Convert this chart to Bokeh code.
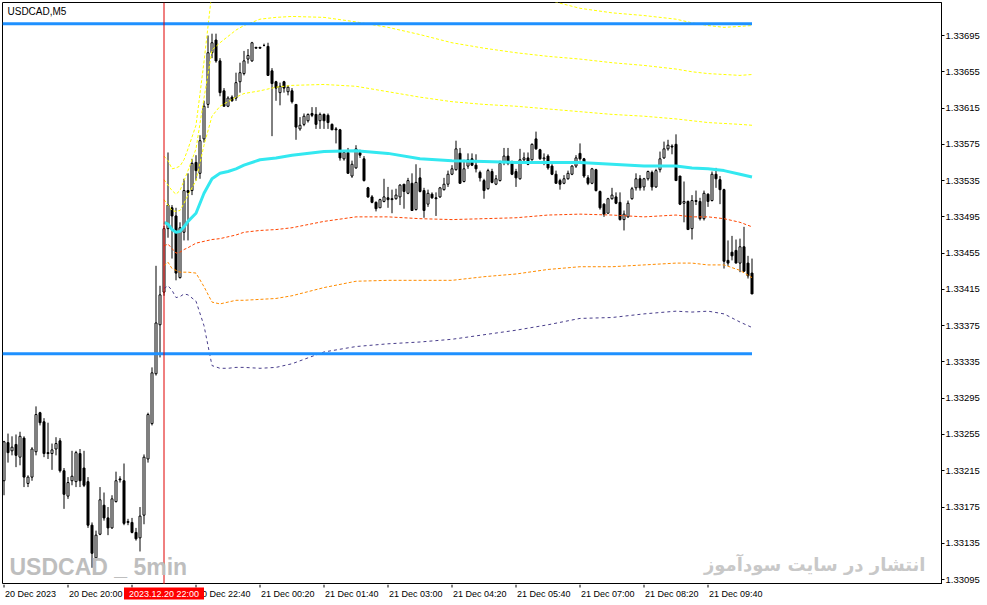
from bokeh.plotting import figure
from bokeh.layouts import column
from bokeh.models import FixedTicker, Label, Span, ColumnDataSource, Range1d, PrintfTickFormatter
from bokeh.core.properties import value
from bokeh.embed import file_html
from bokeh.resources import INLINE

# ---------------- data ----------------
symbol_title = "USDCAD,M5"
watermark_left = "USDCAD _ 5min"
watermark_right = "انتشار در سایت سودآموز"

opens = [1.33204, 1.33246, 1.33237, 1.33244, 1.33230, 1.33251, 1.33201, 1.33208, 1.33236, 1.33279,
         1.33269, 1.33235, 1.33234, 1.33239, 1.33248, 1.33215, 1.33187, 1.33204, 1.33203, 1.33234,
         1.33218, 1.33203, 1.33155, 1.33119, 1.33145, 1.33177, 1.33163, 1.33152, 1.33181, 1.33206,
         1.33204, 1.33158, 1.33158, 1.33147, 1.33141, 1.33166, 1.33228, 1.33267, 1.33322, 1.33376,
         1.33412, 1.33482, 1.33505, 1.33496, 1.33428, 1.33478, 1.33524, 1.33524, 1.33555, 1.33543,
         1.33581, 1.33619, 1.33676, 1.33690, 1.33667, 1.33634, 1.33617, 1.33627, 1.33626, 1.33644,
         1.33653, 1.33669, 1.33667, 1.33682, 1.33682, 1.33684, 1.33683, 1.33656, 1.33644, 1.33632,
         1.33644, 1.33633, 1.33634, 1.33619, 1.33592, 1.33597, 1.33601, 1.33609, 1.33608, 1.33601,
         1.33608, 1.33607, 1.33597, 1.33592, 1.33591, 1.33559, 1.33566, 1.33540, 1.33549, 1.33566,
         1.33559, 1.33527, 1.33517, 1.33511, 1.33505, 1.33512, 1.33516, 1.33515, 1.33515, 1.33517,
         1.33531, 1.33521, 1.33532, 1.33503, 1.33538, 1.33524, 1.33509, 1.33520, 1.33516, 1.33517,
         1.33525, 1.33531, 1.33542, 1.33547, 1.33565, 1.33534, 1.33551, 1.33559, 1.33552, 1.33544,
         1.33535, 1.33526, 1.33545, 1.33531, 1.33535, 1.33555, 1.33562, 1.33554, 1.33545, 1.33537,
         1.33558, 1.33560, 1.33558, 1.33581, 1.33569, 1.33559, 1.33562, 1.33551, 1.33542, 1.33535,
         1.33532, 1.33537, 1.33542, 1.33551, 1.33565, 1.33559, 1.33538, 1.33532, 1.33547, 1.33523,
         1.33509, 1.33499, 1.33515, 1.33517, 1.33511, 1.33492, 1.33495, 1.33515, 1.33527, 1.33537,
         1.33528, 1.33537, 1.33544, 1.33528, 1.33547, 1.33560, 1.33570, 1.33573, 1.33575, 1.33540,
         1.33510, 1.33512, 1.33482, 1.33513, 1.33512, 1.33493, 1.33520, 1.33513, 1.33542, 1.33536,
         1.33525, 1.33447, 1.33456, 1.33458, 1.33444, 1.33462, 1.33444, 1.33433]

highs = [1.33248, 1.33256, 1.33253, 1.33255, 1.33258, 1.33253, 1.33210, 1.33241, 1.33286, 1.33280,
         1.33273, 1.33268, 1.33245, 1.33252, 1.33251, 1.33218, 1.33208, 1.33237, 1.33237, 1.33239,
         1.33237, 1.33208, 1.33158, 1.33149, 1.33197, 1.33191, 1.33175, 1.33188, 1.33214, 1.33209,
         1.33223, 1.33162, 1.33163, 1.33152, 1.33175, 1.33233, 1.33279, 1.33329, 1.33441, 1.33419,
         1.33485, 1.33566, 1.33508, 1.33505, 1.33489, 1.33537, 1.33543, 1.33559, 1.33563, 1.33585,
         1.33623, 1.33695, 1.33697, 1.33697, 1.33670, 1.33637, 1.33628, 1.33629, 1.33654, 1.33665,
         1.33678, 1.33680, 1.33688, 1.33682, 1.33682, 1.33686, 1.33687, 1.33659, 1.33645, 1.33643,
         1.33645, 1.33640, 1.33637, 1.33619, 1.33605, 1.33609, 1.33609, 1.33616, 1.33616, 1.33610,
         1.33609, 1.33609, 1.33598, 1.33594, 1.33592, 1.33568, 1.33571, 1.33557, 1.33574, 1.33569,
         1.33562, 1.33528, 1.33519, 1.33512, 1.33515, 1.33537, 1.33528, 1.33525, 1.33526, 1.33531,
         1.33531, 1.33538, 1.33543, 1.33553, 1.33549, 1.33527, 1.33525, 1.33522, 1.33522, 1.33528,
         1.33538, 1.33546, 1.33552, 1.33579, 1.33571, 1.33558, 1.33565, 1.33565, 1.33564, 1.33546,
         1.33537, 1.33548, 1.33548, 1.33541, 1.33557, 1.33571, 1.33571, 1.33557, 1.33548, 1.33570,
         1.33566, 1.33566, 1.33576, 1.33589, 1.33570, 1.33565, 1.33564, 1.33553, 1.33546, 1.33537,
         1.33541, 1.33546, 1.33552, 1.33563, 1.33576, 1.33560, 1.33541, 1.33549, 1.33548, 1.33524,
         1.33510, 1.33516, 1.33527, 1.33522, 1.33522, 1.33502, 1.33513, 1.33528, 1.33543, 1.33541,
         1.33538, 1.33546, 1.33546, 1.33548, 1.33567, 1.33578, 1.33580, 1.33575, 1.33586, 1.33540,
         1.33534, 1.33513, 1.33519, 1.33524, 1.33516, 1.33524, 1.33521, 1.33545, 1.33549, 1.33540,
         1.33526, 1.33469, 1.33474, 1.33470, 1.33471, 1.33484, 1.33452, 1.33449]

lows = [1.33188, 1.33224, 1.33232, 1.33219, 1.33221, 1.33197, 1.33197, 1.33204, 1.33232, 1.33265,
        1.33230, 1.33228, 1.33216, 1.33232, 1.33213, 1.33173, 1.33184, 1.33199, 1.33197, 1.33197,
        1.33197, 1.33152, 1.33108, 1.33116, 1.33144, 1.33160, 1.33144, 1.33151, 1.33180, 1.33202,
        1.33155, 1.33155, 1.33146, 1.33138, 1.33126, 1.33156, 1.33224, 1.33265, 1.33320, 1.33340,
        1.33408, 1.33472, 1.33449, 1.33425, 1.33427, 1.33469, 1.33469, 1.33519, 1.33535, 1.33537,
        1.33577, 1.33615, 1.33670, 1.33665, 1.33628, 1.33617, 1.33616, 1.33622, 1.33623, 1.33632,
        1.33651, 1.33664, 1.33666, 1.33681, 1.33681, 1.33683, 1.33651, 1.33584, 1.33623, 1.33618,
        1.33632, 1.33629, 1.33620, 1.33580, 1.33590, 1.33595, 1.33599, 1.33605, 1.33592, 1.33592,
        1.33592, 1.33592, 1.33591, 1.33576, 1.33557, 1.33557, 1.33543, 1.33538, 1.33548, 1.33560,
        1.33534, 1.33516, 1.33510, 1.33501, 1.33505, 1.33511, 1.33505, 1.33499, 1.33514, 1.33508,
        1.33504, 1.33520, 1.33502, 1.33502, 1.33522, 1.33494, 1.33506, 1.33515, 1.33496, 1.33516,
        1.33524, 1.33528, 1.33541, 1.33546, 1.33532, 1.33533, 1.33548, 1.33551, 1.33544, 1.33534,
        1.33515, 1.33525, 1.33532, 1.33530, 1.33534, 1.33552, 1.33552, 1.33541, 1.33528, 1.33536,
        1.33555, 1.33552, 1.33557, 1.33569, 1.33558, 1.33552, 1.33547, 1.33541, 1.33532, 1.33525,
        1.33531, 1.33536, 1.33541, 1.33549, 1.33557, 1.33538, 1.33530, 1.33531, 1.33523, 1.33503,
        1.33495, 1.33499, 1.33514, 1.33509, 1.33491, 1.33480, 1.33494, 1.33514, 1.33524, 1.33524,
        1.33524, 1.33535, 1.33524, 1.33527, 1.33544, 1.33559, 1.33568, 1.33564, 1.33535, 1.33508,
        1.33489, 1.33481, 1.33470, 1.33508, 1.33491, 1.33491, 1.33506, 1.33512, 1.33527, 1.33509,
        1.33438, 1.33441, 1.33447, 1.33444, 1.33434, 1.33435, 1.33427, 1.33410]

closes = [1.33247, 1.33235, 1.33241, 1.33232, 1.33253, 1.33208, 1.33208, 1.33239, 1.33277, 1.33268,
          1.33234, 1.33234, 1.33238, 1.33245, 1.33215, 1.33189, 1.33202, 1.33209, 1.33235, 1.33204,
          1.33199, 1.33155, 1.33124, 1.33144, 1.33183, 1.33163, 1.33152, 1.33184, 1.33204, 1.33205,
          1.33157, 1.33159, 1.33147, 1.33140, 1.33165, 1.33230, 1.33277, 1.33323, 1.33378, 1.33409,
          1.33482, 1.33508, 1.33496, 1.33433, 1.33483, 1.33524, 1.33522, 1.33554, 1.33546, 1.33579,
          1.33617, 1.33676, 1.33687, 1.33667, 1.33632, 1.33617, 1.33626, 1.33623, 1.33643, 1.33654,
          1.33667, 1.33673, 1.33687, 1.33681, 1.33681, 1.33684, 1.33651, 1.33642, 1.33637, 1.33639,
          1.33637, 1.33638, 1.33622, 1.33594, 1.33596, 1.33606, 1.33608, 1.33607, 1.33597, 1.33608,
          1.33601, 1.33599, 1.33591, 1.33591, 1.33560, 1.33566, 1.33543, 1.33553, 1.33570, 1.33563,
          1.33535, 1.33517, 1.33511, 1.33504, 1.33514, 1.33517, 1.33514, 1.33514, 1.33519, 1.33530,
          1.33523, 1.33535, 1.33502, 1.33533, 1.33523, 1.33502, 1.33521, 1.33516, 1.33515, 1.33527,
          1.33531, 1.33542, 1.33548, 1.33570, 1.33532, 1.33548, 1.33558, 1.33552, 1.33548, 1.33538,
          1.33524, 1.33546, 1.33533, 1.33537, 1.33554, 1.33562, 1.33554, 1.33542, 1.33538, 1.33558,
          1.33560, 1.33553, 1.33575, 1.33570, 1.33559, 1.33560, 1.33549, 1.33542, 1.33532, 1.33531,
          1.33537, 1.33543, 1.33551, 1.33560, 1.33559, 1.33540, 1.33532, 1.33548, 1.33524, 1.33505,
          1.33498, 1.33515, 1.33519, 1.33510, 1.33492, 1.33498, 1.33510, 1.33526, 1.33537, 1.33527,
          1.33537, 1.33545, 1.33528, 1.33546, 1.33559, 1.33570, 1.33574, 1.33572, 1.33535, 1.33509,
          1.33512, 1.33481, 1.33513, 1.33512, 1.33493, 1.33521, 1.33512, 1.33542, 1.33537, 1.33525,
          1.33446, 1.33444, 1.33452, 1.33444, 1.33462, 1.33435, 1.33430, 1.33410]

# anchored VWAP and its bands, read at these bars
band_bars = [40, 41, 42, 43, 44, 45, 46, 48, 50, 52, 54, 56, 58, 60, 64, 68, 72, 80, 88, 96,
             104, 112, 120, 128, 136, 144, 152, 160, 168, 172, 176, 180, 184, 187]
vwap = [1.33489, 1.33487, 1.33481, 1.33478, 1.33479, 1.33484, 1.33490, 1.33499, 1.33521, 1.33537,
        1.33543, 1.33545, 1.33548, 1.33552, 1.33558, 1.33560, 1.33563, 1.33567, 1.33568, 1.33565,
        1.33559, 1.33557, 1.33556, 1.33555, 1.33555, 1.33555, 1.33553, 1.33551, 1.33551, 1.33549,
        1.33548, 1.33546, 1.33542, 1.33539]
upper_1 = [1.33514, 1.33508, 1.33502, 1.33501, 1.33502, 1.33510, 1.33519, 1.33535, 1.33574, 1.33606,
           1.33617, 1.33622, 1.33627, 1.33631, 1.33634, 1.33638, 1.33640, 1.33641, 1.33639, 1.33633,
           1.33627, 1.33622, 1.33619, 1.33617, 1.33614, 1.33611, 1.33608, 1.33606, 1.33603, 1.33601,
           1.33599, 1.33598, 1.33597, 1.33596]
upper_2 = [1.33536, 1.33530, 1.33524, 1.33520, 1.33524, 1.33535, 1.33546, 1.33570, 1.33626, 1.33679,
           1.33687, 1.33694, 1.33701, 1.33706, 1.33713, 1.33715, 1.33716, 1.33715, 1.33710, 1.33704,
           1.33696, 1.33687, 1.33681, 1.33676, 1.33672, 1.33669, 1.33665, 1.33662, 1.33658, 1.33655,
           1.33653, 1.33652, 1.33651, 1.33652]
upper_3 = [1.33562, 1.33557, 1.33548, 1.33549, 1.33551, 1.33558, 1.33570, 1.33596, 1.33666, 1.33744,
           1.33758, 1.33763, 1.33769, 1.33774, 1.33783, 1.33787, 1.33789, 1.33787, 1.33782, 1.33776,
           1.33767, 1.33758, 1.33747, 1.33740, 1.33734, 1.33725, 1.33720, 1.33717, 1.33713, 1.33709,
           1.33706, 1.33704, 1.33705, 1.33706]
lower_1 = [1.33463, 1.33465, 1.33460, 1.33455, 1.33456, 1.33459, 1.33461, 1.33466, 1.33468, 1.33470,
           1.33471, 1.33473, 1.33475, 1.33478, 1.33480, 1.33481, 1.33483, 1.33490, 1.33495, 1.33495,
           1.33493, 1.33492, 1.33493, 1.33494, 1.33497, 1.33498, 1.33497, 1.33495, 1.33497, 1.33495,
           1.33495, 1.33493, 1.33489, 1.33484]
lower_2 = [1.33441, 1.33445, 1.33438, 1.33436, 1.33434, 1.33434, 1.33434, 1.33433, 1.33418, 1.33401,
           1.33399, 1.33401, 1.33403, 1.33403, 1.33404, 1.33405, 1.33408, 1.33417, 1.33424, 1.33425,
           1.33425, 1.33425, 1.33429, 1.33432, 1.33437, 1.33440, 1.33440, 1.33442, 1.33444, 1.33444,
           1.33442, 1.33442, 1.33436, 1.33428]
lower_3 = [1.33416, 1.33419, 1.33414, 1.33406, 1.33407, 1.33410, 1.33409, 1.33402, 1.33375, 1.33331,
           1.33328, 1.33328, 1.33329, 1.33329, 1.33328, 1.33329, 1.33333, 1.33346, 1.33352, 1.33355,
           1.33357, 1.33360, 1.33365, 1.33370, 1.33376, 1.33383, 1.33384, 1.33388, 1.33391, 1.33390,
           1.33391, 1.33388, 1.33379, 1.33373]

level_upper = 1.33708
level_lower = 1.33344
anchor_bar = 40
anchor_time = "2023.12.20 22:00"

time_tick_bars = [0, 16, 32, 48, 64, 80, 96, 112, 128, 144, 160, 176]
time_tick_labels = ["20 Dec 2023", "20 Dec 20:00", "20 Dec 21:20", "20 Dec 22:40", "21 Dec 00:20",
                    "21 Dec 01:40", "21 Dec 03:00", "21 Dec 04:20", "21 Dec 05:40", "21 Dec 07:00",
                    "21 Dec 08:20", "21 Dec 09:40"]
price_ticks = [1.33095, 1.33135, 1.33175, 1.33215, 1.33255, 1.33295, 1.33335, 1.33375,
               1.33415, 1.33455, 1.33495, 1.33535, 1.33575, 1.33615, 1.33655, 1.33695]

# ---------------- calibration of the reference picture (page pixels) ----------------
BAR_PX, BAR0_PX = 4.0, 3.5              # bar i centred at 3.5 + 4*i px
REF_PRICE, REF_PY, PX_PER_UNIT = 1.33695, 35.0, 90680.0


def bar_at(px):
    return (px - BAR0_PX) / BAR_PX


def price_at(py):
    return REF_PRICE - (py - REF_PY) / PX_PER_UNIT


FRAME_L, FRAME_R, FRAME_T, FRAME_B = 2, 941, 2, 584
STRIP_H = 20
AXIS_FONT = "Liberation Sans"

x_range = Range1d(bar_at(FRAME_L), bar_at(FRAME_R))
p = figure(frame_width=FRAME_R - FRAME_L, frame_height=FRAME_B - FRAME_T,
           x_range=x_range, y_range=Range1d(price_at(FRAME_B), price_at(FRAME_T)),
           x_axis_location=None, y_axis_location="right",
           output_backend="svg", toolbar_location=None,
           min_border_left=FRAME_L, min_border_top=FRAME_T, min_border_right=44, min_border_bottom=0,
           background_fill_color="white", border_fill_color="white",
           outline_line_color="black", outline_line_width=1)
p.grid.visible = False

# candles
n = len(opens)
bull = [c > o for o, c in zip(opens, closes)]
src = ColumnDataSource(dict(
    x=list(range(n)), high=highs, low=lows,
    top=[max(o, c) for o, c in zip(opens, closes)],
    bottom=[min(o, c) for o, c in zip(opens, closes)],
    fill=["white" if b else "black" for b in bull]))
p.segment(x0="x", y0="high", x1="x", y1="low", source=src, line_color="black", line_width=1)
p.vbar(x="x", top="top", bottom="bottom", width=0.5, source=src,
       fill_color="fill", line_color="black", line_width=1)

# indicator lines
for band in (upper_3, upper_2, upper_1):
    p.line(band_bars, band, line_color="#FFFF00", line_width=1, line_dash="3 2")
p.line(band_bars, lower_1, line_color="#FF4500", line_width=1, line_dash="3 2")
p.line(band_bars, lower_2, line_color="#FF8C00", line_width=1, line_dash="3 2")
p.line(band_bars, lower_3, line_color="#483D8B", line_width=1, line_dash="3 3")
p.line(band_bars, vwap, line_color="#33E8F0", line_width=3)

# horizontal levels up to the last bar
p.segment(x0=[x_range.start] * 2, x1=[n - 1] * 2, y0=[level_upper, level_lower],
          y1=[level_upper, level_lower], line_color="#1E90FF", line_width=3)

# anchor vertical line
p.add_layout(Span(location=anchor_bar, dimension="height", line_color="#E00000", line_width=1))

# price axis
yax = p.yaxis[0]
yax.ticker = FixedTicker(ticks=price_ticks)
yax.formatter = PrintfTickFormatter(format="%.5f")
yax.major_tick_in = 0
yax.major_tick_out = 3
yax.minor_tick_line_color = None
yax.major_label_standoff = 1
yax.major_label_text_font = AXIS_FONT
yax.major_label_text_font_size = "9.5px"
yax.major_label_text_color = "black"
yax.axis_line_color = "black"

# title and watermarks
p.add_layout(Label(x=bar_at(7), y=price_at(5), text=symbol_title, text_align="left",
                   text_baseline="top", text_font=AXIS_FONT, text_font_size="10px", text_color="black"))
p.add_layout(Label(x=bar_at(9), y=price_at(553), text=watermark_left, text_align="left",
                   text_baseline="top", text_font=AXIS_FONT,
                   text_font_style="bold", text_font_size="23px", text_color="#BEBEBE"))
p.add_layout(Label(x=bar_at(925), y=price_at(553), text=watermark_right, text_align="right",
                   text_baseline="top", text_font="DejaVu Sans",
                   text_font_style="bold", text_font_size="18px", text_color="#C8C8C8"))

# time strip under the chart (same x scale)
t = figure(frame_width=FRAME_R - FRAME_L, frame_height=STRIP_H, x_range=x_range,
           y_range=Range1d(STRIP_H, 0), x_axis_location=None, y_axis_location=None,
           output_backend="svg", toolbar_location=None,
           min_border_left=FRAME_L, min_border_top=0, min_border_right=44, min_border_bottom=0,
           background_fill_color="white", border_fill_color="white", outline_line_color=None)
t.grid.visible = False
t.segment(x0=time_tick_bars, x1=time_tick_bars, y0=[0] * len(time_tick_bars),
          y1=[3] * len(time_tick_bars), line_color="black", line_width=1)
t.text(x=time_tick_bars, y=[9] * len(time_tick_bars), text=time_tick_labels, x_offset=1,
       text_align="left", text_baseline="middle", text_font=value(AXIS_FONT),
       text_font_size=value("9px"), text_color="black")
t.rect(x=[anchor_bar], y=[9], width=80, height=12, width_units="screen", height_units="screen",
       fill_color="#FF0000", line_color=None)
t.text(x=[anchor_bar], y=[9], text=[anchor_time], text_align="center", text_baseline="middle",
       text_font=value(AXIS_FONT), text_font_size=value("9px"), text_color="white")

layout = column(p, t, spacing=0)
open("out.html", "w").write(file_html(layout, INLINE))
